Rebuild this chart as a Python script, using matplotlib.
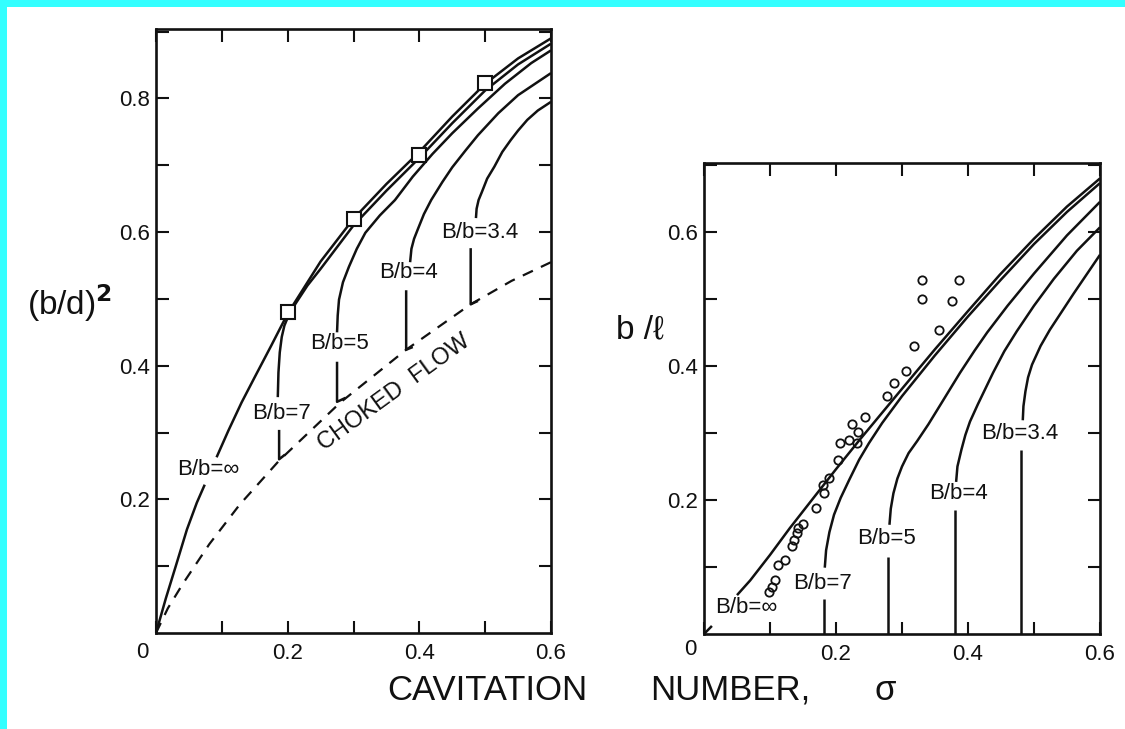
import matplotlib
matplotlib.use("Agg")
import matplotlib.pyplot as plt
from matplotlib.patches import Rectangle

plt.rcParams['font.family'] = ['Liberation Sans', 'DejaVu Sans']

INK = '#111111'

# ---------- left panel: (b/d)^2 against sigma ----------
choke_x = [0, 0.018, 0.041, 0.081, 0.127, 0.187, 0.28, 0.38, 0.478, 0.54, 0.6]
choke_y = [0, 0.037, 0.074, 0.133, 0.192, 0.258, 0.345, 0.424, 0.492, 0.527, 0.555]

inf_lo_x = [0, 0.015, 0.03, 0.047, 0.062, 0.074]
inf_lo_y = [0, 0.052, 0.1, 0.155, 0.195, 0.222]
inf_hi_x = [0.092, 0.11, 0.13, 0.15, 0.175, 0.2, 0.25, 0.3, 0.35, 0.4, 0.45, 0.5, 0.55, 0.6]
inf_hi_y = [0.263, 0.303, 0.345, 0.383, 0.43, 0.478, 0.556, 0.62, 0.672, 0.72, 0.773, 0.822,
            0.86, 0.89]

b7_lo_x = [0.196, 0.187, 0.187]
b7_lo_y = [0.267, 0.26, 0.304]
b7_hi_x = [0.185, 0.186, 0.188, 0.191, 0.195, 0.2, 0.21, 0.23, 0.25, 0.3, 0.35, 0.4, 0.45,
           0.5, 0.55, 0.6]
b7_hi_y = [0.353, 0.39, 0.42, 0.443, 0.46, 0.472, 0.49, 0.52, 0.545, 0.61, 0.662, 0.711,
           0.763, 0.812, 0.851, 0.882]

b5_lo_x = [0.288, 0.275, 0.275]
b5_lo_y = [0.352, 0.346, 0.406]
b5_hi_x = [0.275, 0.276, 0.278, 0.284, 0.293, 0.305, 0.318, 0.34, 0.363, 0.39, 0.42, 0.45,
           0.489, 0.53, 0.57, 0.6]
b5_hi_y = [0.45, 0.475, 0.499, 0.525, 0.548, 0.575, 0.599, 0.625, 0.648, 0.683, 0.717, 0.748,
           0.785, 0.822, 0.853, 0.872]

b4_lo_x = [0.39, 0.38, 0.38]
b4_lo_y = [0.428, 0.424, 0.513]
b4_hi_x = [0.386, 0.388, 0.392, 0.398, 0.407, 0.418, 0.435, 0.45, 0.47, 0.489, 0.52, 0.55, 0.6]
b4_hi_y = [0.555, 0.575, 0.59, 0.605, 0.627, 0.648, 0.675, 0.697, 0.722, 0.745, 0.778, 0.805,
           0.838]

b34_lo_x = [0.489, 0.478, 0.478]
b34_lo_y = [0.497, 0.492, 0.576]
b34_hi_x = [0.486, 0.487, 0.49, 0.495, 0.503, 0.514, 0.526, 0.539, 0.55, 0.564, 0.58, 0.6]
b34_hi_y = [0.621, 0.635, 0.648, 0.66, 0.68, 0.698, 0.72, 0.738, 0.752, 0.768, 0.782, 0.795]

sq_x = [0.2, 0.3, 0.4, 0.5]
sq_y = [0.48, 0.62, 0.715, 0.823]

# ---------- right panel: b/l against sigma ----------
r_inf_lo_x = [0, 0.012]
r_inf_lo_y = [0, 0.012]
r_inf_hi_x = [0.05, 0.07, 0.1, 0.13, 0.161, 0.2, 0.236, 0.3, 0.35, 0.4, 0.448, 0.5, 0.55, 0.6]
r_inf_hi_y = [0.058, 0.08, 0.118, 0.158, 0.197, 0.246, 0.29, 0.366, 0.425, 0.482, 0.536, 0.59,
              0.638, 0.68]

r7_lo_x = [0.182, 0.182]
r7_lo_y = [0, 0.052]
r7_hi_x = [0.183, 0.185, 0.19, 0.197, 0.207, 0.22, 0.235, 0.25, 0.27, 0.3, 0.35, 0.4, 0.45,
           0.5, 0.55, 0.6]
r7_hi_y = [0.099, 0.125, 0.152, 0.178, 0.203, 0.23, 0.26, 0.285, 0.315, 0.355, 0.416, 0.474,
           0.529, 0.582, 0.63, 0.673]

r5_lo_x = [0.279, 0.279]
r5_lo_y = [0, 0.115]
r5_hi_x = [0.281, 0.283, 0.287, 0.293, 0.3, 0.31, 0.323, 0.34, 0.36, 0.388, 0.41, 0.429, 0.46,
           0.5, 0.55, 0.6]
r5_hi_y = [0.163, 0.187, 0.21, 0.232, 0.25, 0.27, 0.288, 0.313, 0.345, 0.39, 0.423, 0.45,
           0.49, 0.538, 0.595, 0.645]

r4_lo_x = [0.38, 0.38]
r4_lo_y = [0, 0.185]
r4_hi_x = [0.382, 0.384, 0.39, 0.396, 0.403, 0.415, 0.438, 0.455, 0.474, 0.5, 0.53, 0.565, 0.6]
r4_hi_y = [0.227, 0.25, 0.275, 0.297, 0.317, 0.343, 0.39, 0.422, 0.452, 0.49, 0.53, 0.572,
           0.607]

r34_lo_x = [0.48, 0.48]
r34_lo_y = [0, 0.275]
r34_hi_x = [0.483, 0.484, 0.487, 0.491, 0.497, 0.51, 0.524, 0.54, 0.56, 0.58, 0.6]
r34_hi_y = [0.319, 0.34, 0.362, 0.383, 0.402, 0.43, 0.454, 0.478, 0.508, 0.537, 0.566]

circ_x = [0.244, 0.224, 0.233, 0.206, 0.22, 0.232, 0.203, 0.189, 0.18, 0.182,
          0.17, 0.15, 0.143, 0.141, 0.137, 0.133, 0.123, 0.112, 0.108, 0.103,
          0.098, 0.33, 0.386, 0.33, 0.376, 0.356, 0.318, 0.306, 0.288, 0.277]
circ_y = [0.324, 0.313, 0.301, 0.285, 0.29, 0.285, 0.26, 0.233, 0.222, 0.21,
          0.188, 0.164, 0.158, 0.151, 0.14, 0.131, 0.11, 0.103, 0.081, 0.07,
          0.063, 0.528, 0.528, 0.5, 0.497, 0.454, 0.43, 0.393, 0.375, 0.355]

curve_labels = ['B/b=\u221e', 'B/b=7', 'B/b=5', 'B/b=4', 'B/b=3.4']
lab_left_x = [0.08, 0.19, 0.278, 0.383, 0.492]
lab_left_y = [0.245, 0.328, 0.433, 0.539, 0.599]
lab_right_x = [0.064, 0.18, 0.277, 0.385, 0.479]
lab_right_y = [0.039, 0.076, 0.142, 0.209, 0.299]

fig = plt.figure(figsize=(11.25, 7.29), dpi=100)
fig.patch.set_facecolor('white')
# cyan frame strips (top and left)
fig.patches.append(Rectangle((0, 1 - 7 / 729), 1, 7 / 729, transform=fig.transFigure,
                             facecolor='#33ffff', edgecolor='none'))
fig.patches.append(Rectangle((0, 0), 7 / 1125, 1, transform=fig.transFigure,
                             facecolor='#33ffff', edgecolor='none'))

ax1 = fig.add_axes([156 / 1125, 1 - 633 / 729, 395 / 1125, 604 / 729])
ax2 = fig.add_axes([704 / 1125, 1 - 634 / 729, 396 / 1125, 471 / 729])

ylab_names = {2: '0.2', 4: '0.4', 6: '0.6', 8: '0.8'}


def style(ax, ytop):
    ax.set_xlim(0, 0.6)
    ax.set_ylim(0, ytop)
    yt = [i for i in range(1, 10) if i / 10 < ytop]
    ax.set_xticks([i / 10 for i in range(0, 7)])
    ax.set_xticklabels(['', '', '0.2', '', '0.4', '', '0.6'])
    ax.set_yticks([i / 10 for i in yt])
    ax.set_yticklabels([ylab_names.get(i, '') for i in yt])
    ax.tick_params(direction='in', length=9, width=1.5, top=True, right=True,
                   labelsize=16, colors=INK)
    ax.tick_params(axis='x', pad=7)
    ax.tick_params(axis='y', pad=4)
    for s in ax.spines.values():
        s.set_linewidth(1.9)
        s.set_color(INK)
    ax.text(-0.035, -0.032, '0', transform=ax.transAxes, fontsize=16, color=INK,
            ha='center', va='center')


style(ax1, 0.904)
style(ax2, 0.703)

kw = dict(color=INK, lw=1.8, solid_capstyle='butt', solid_joinstyle='round')

# left panel curves
ax1.plot(choke_x, choke_y, color=INK, lw=1.6, linestyle=(0, (5, 4)))
for xs, ys in [(inf_lo_x, inf_lo_y), (inf_hi_x, inf_hi_y), (b7_lo_x, b7_lo_y),
               (b7_hi_x, b7_hi_y), (b5_lo_x, b5_lo_y), (b5_hi_x, b5_hi_y),
               (b4_lo_x, b4_lo_y), (b4_hi_x, b4_hi_y), (b34_lo_x, b34_lo_y),
               (b34_hi_x, b34_hi_y)]:
    ax1.plot(xs, ys, **kw)
ax1.plot(sq_x, sq_y, linestyle='none', marker='s', ms=10, mfc='white',
         mec=INK, mew=1.5, zorder=5)
for t, x, y in zip(curve_labels, lab_left_x, lab_left_y):
    ax1.text(x, y, t, fontsize=16, color=INK, ha='center', va='center')
ax1.text(0.362, 0.36, 'CHOKED  FLOW', fontsize=17, color=INK, rotation=36,
         ha='center', va='center', rotation_mode='anchor')

# right panel curves
for xs, ys in [(r_inf_lo_x, r_inf_lo_y), (r_inf_hi_x, r_inf_hi_y), (r7_lo_x, r7_lo_y),
               (r7_hi_x, r7_hi_y), (r5_lo_x, r5_lo_y), (r5_hi_x, r5_hi_y),
               (r4_lo_x, r4_lo_y), (r4_hi_x, r4_hi_y), (r34_lo_x, r34_lo_y),
               (r34_hi_x, r34_hi_y)]:
    ax2.plot(xs, ys, **kw)
ax2.plot(circ_x, circ_y, linestyle='none', marker='o', ms=6, mfc='none',
         mec=INK, mew=1.3)
for t, x, y in zip(curve_labels, lab_right_x, lab_right_y):
    ax2.text(x, y, t, fontsize=16, color=INK, ha='center', va='center')

# axis titles
fig.text(70 / 1125, 1 - 303 / 729, '(b/d)$^\\mathbf{2}$', fontsize=24, color=INK,
         ha='center', va='center')
fig.text(640 / 1125, 1 - 330 / 729, 'b /\u2113', fontsize=24, color=INK,
         ha='center', va='center')
fig.text(487 / 1125, 1 - 690 / 729, 'CAVITATION', fontsize=25, color=INK,
         ha='center', va='center')
fig.text(730 / 1125, 1 - 690 / 729, 'NUMBER,', fontsize=25, color=INK,
         ha='center', va='center')
fig.text(885 / 1125, 1 - 690 / 729, '\u03c3', fontsize=25, color=INK,
         ha='center', va='center')

fig.savefig('out.png', dpi=100)
